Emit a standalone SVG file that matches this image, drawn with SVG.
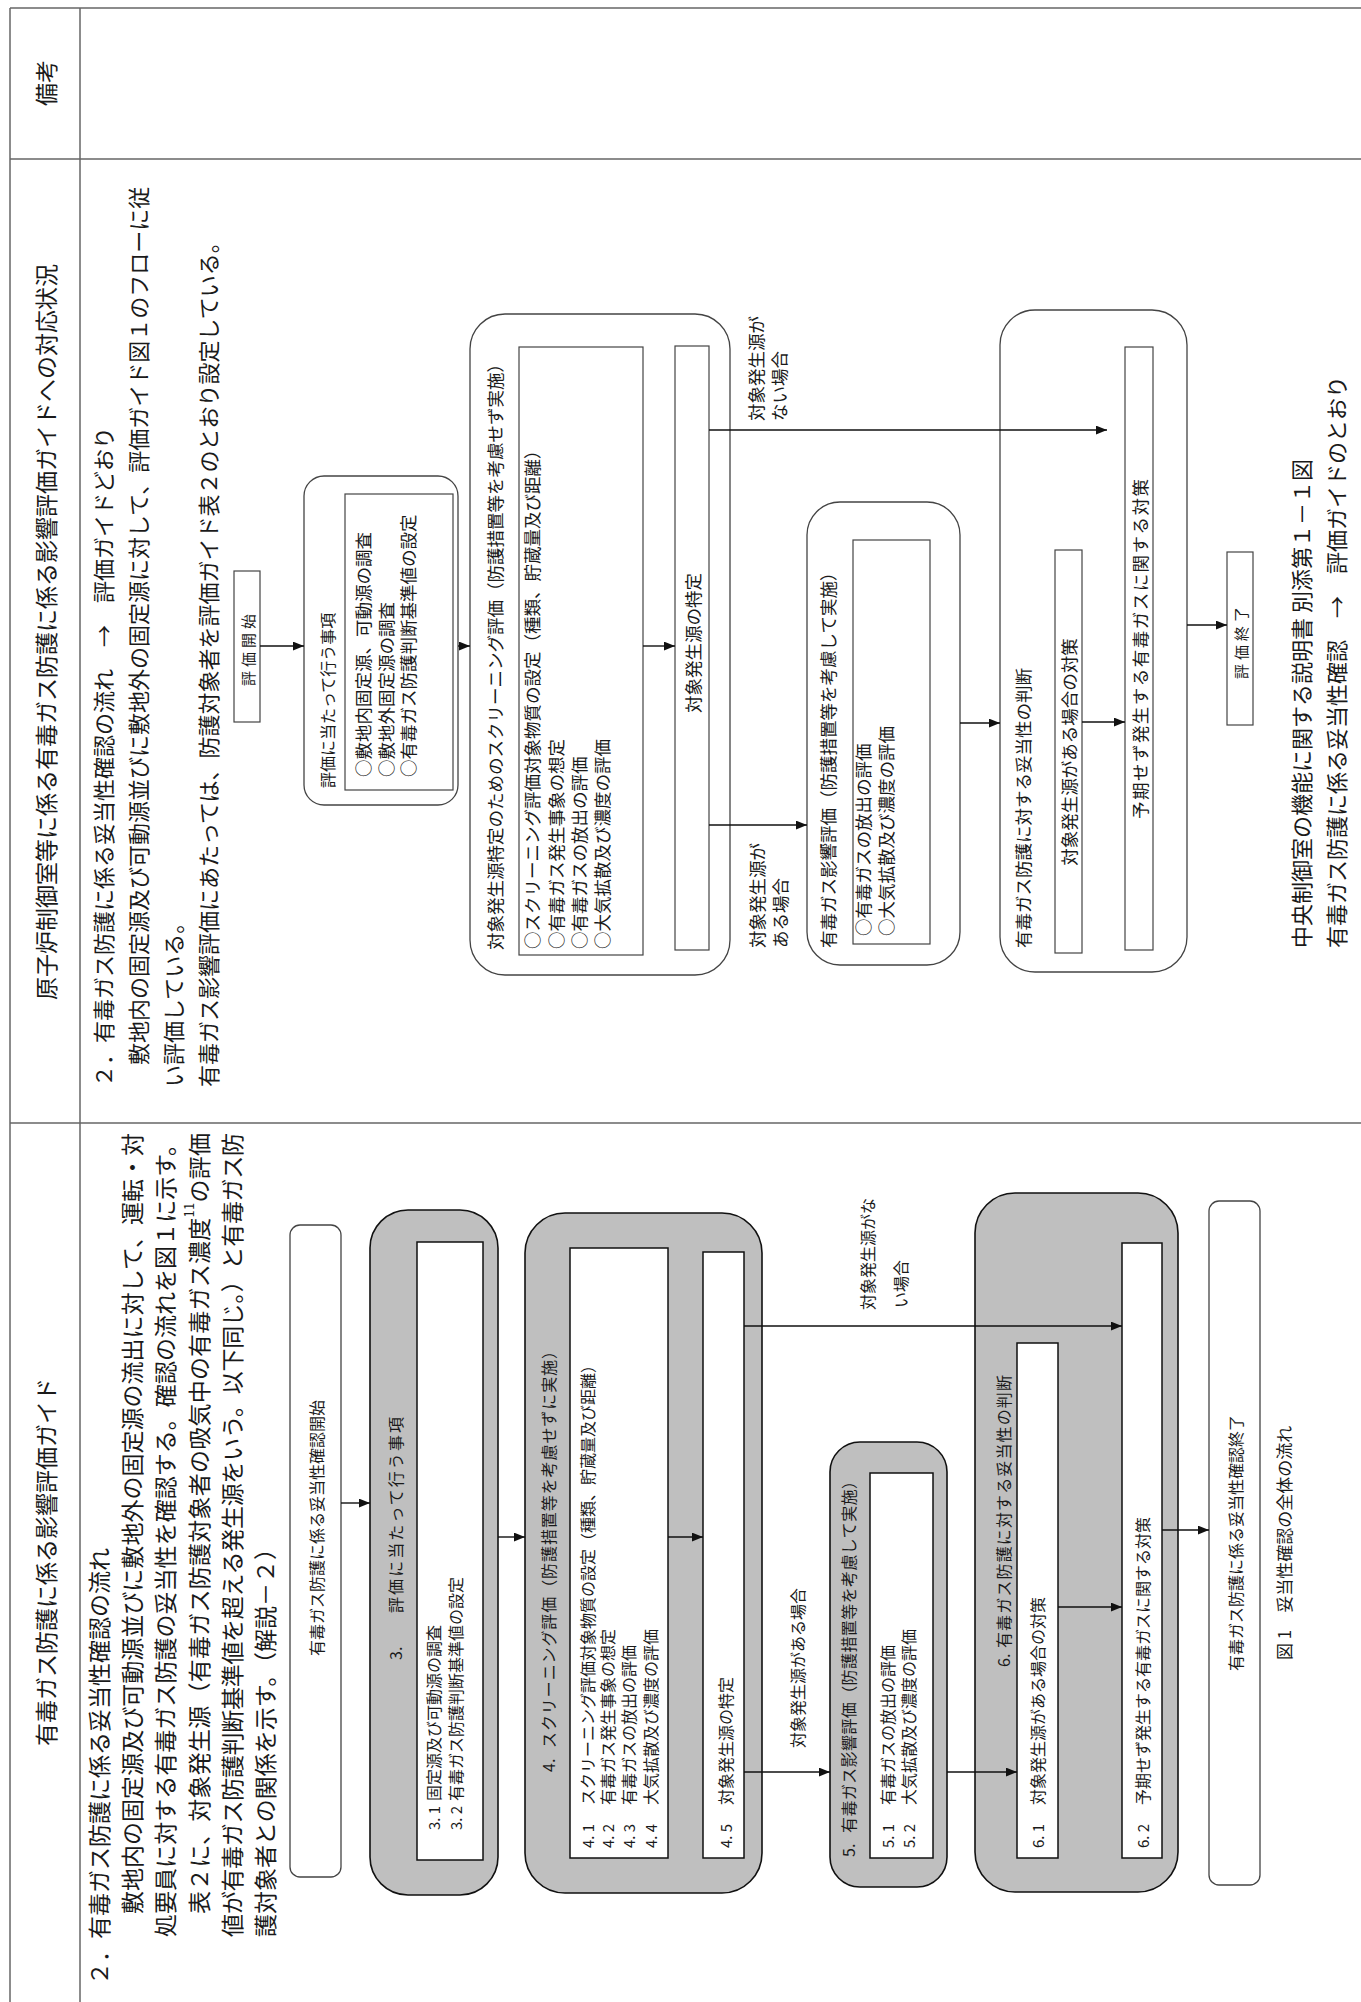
<svg xmlns="http://www.w3.org/2000/svg" width="1361" height="2002" viewBox="0 0 1361 2002">
<defs>
<style>
.t{font-family:"Noto Sans CJK JP","Noto Sans CJK SC",sans-serif;fill:#1a1a1a;dominant-baseline:central}
.hd{font-size:23px}
.bm{font-size:22px}
.bb{font-size:23px}
.fm{font-size:17.5px}
.fb{font-size:16px}
.num{font-size:15px}
.cap{font-size:22px}
.mid{text-anchor:middle}
.grid{stroke:#666;stroke-width:1.5;fill:none}
.wbox{fill:#fff;stroke:#444;stroke-width:1.3}
.ibox{fill:#fff;stroke:#444;stroke-width:1.2}
.gbox{fill:#bfbfbf;stroke:#111;stroke-width:1.6}
.gin{fill:#fff;stroke:#111;stroke-width:1.5}
.edge{stroke:#111;stroke-width:1.4;fill:none;marker-end:url(#ah)}
</style>
<marker id="ah" viewBox="0 0 10 8" refX="10" refY="4" markerWidth="11" markerHeight="9" markerUnits="userSpaceOnUse" orient="auto"><path d="M0,0L10,4L0,8z" fill="#111"/></marker>
</defs>
<rect x="0" y="0" width="1361" height="2002" fill="#fff"/>

<g id="table">
<line class="grid" x1="10" y1="8" x2="10" y2="2002"/>
<line class="grid" x1="80" y1="8" x2="80" y2="2002"/>
<line class="grid" x1="10" y1="8" x2="1361" y2="8"/>
<line class="grid" x1="10" y1="159" x2="1361" y2="159"/>
<line class="grid" x1="10" y1="1123" x2="1361" y2="1123"/>
<text class="t hd mid" transform="translate(45,83) rotate(-90)">備考</text>
<text class="t hd mid" transform="translate(45,632) rotate(-90)">原子炉制御室等に係る有毒ガス防護に係る影響評価ガイドへの対応状況</text>
<text class="t hd mid" transform="translate(45,1562) rotate(-90)">有毒ガス防護に係る影響評価ガイド</text>
</g>

<g id="mid-text">
<text class="t bm" transform="translate(102,1087) rotate(-90)">２．有毒ガス防護に係る妥当性確認の流れ　→　評価ガイドどおり</text>
<text class="t bm" transform="translate(137,1065) rotate(-90)">敷地内の固定源及び可動源並びに敷地外の固定源に対して、評価ガイド図１のフローに従</text>
<text class="t bm" transform="translate(172,1087) rotate(-90)">い評価している。</text>
<text class="t bm" transform="translate(207,1087) rotate(-90)">有毒ガス影響評価にあたっては、防護対象者を評価ガイド表２のとおり設定している。</text>
<text class="t cap" transform="translate(1300,948) rotate(-90)">中央制御室の機能に関する説明書 別添第１－１図</text>
<text class="t cap" transform="translate(1335,948) rotate(-90)">有毒ガス防護に係る妥当性確認　→　評価ガイドのとおり</text>
</g>

<g id="m-start">
<rect class="ibox" x="234" y="571" width="26" height="151"/>
<text class="t fm mid" style="font-size:15px;letter-spacing:4px" transform="translate(247,648) rotate(-90)">評価開始</text>
</g>
<g id="m-prep">
<rect class="wbox" x="304" y="476" width="154" height="329" rx="20"/>
<text class="t" style="font-size:16px" transform="translate(327,788) rotate(-90)">評価に当たって行う事項</text>
<rect class="ibox" x="345" y="494" width="108" height="296"/>
<text class="t fm" transform="translate(362,777) rotate(-90)">○敷地内固定源、可動源の調査</text>
<text class="t fm" transform="translate(385,777) rotate(-90)">○敷地外固定源の調査</text>
<text class="t fm" transform="translate(407,777) rotate(-90)">○有毒ガス防護判断基準値の設定</text>
</g>
<g id="m-screen">
<rect class="wbox" x="470" y="314" width="260" height="661" rx="35"/>
<text class="t fm" transform="translate(494,950) rotate(-90)">対象発生源特定のためのスクリーニング評価（防護措置等を考慮せず実施）</text>
<rect class="ibox" x="519" y="347" width="124" height="608"/>
<text class="t fm" transform="translate(531,949) rotate(-90)">○スクリーニング評価対象物質の設定（種類、貯蔵量及び距離）</text>
<text class="t fm" transform="translate(555,949) rotate(-90)">○有毒ガス発生事象の想定</text>
<text class="t fm" transform="translate(578,949) rotate(-90)">○有毒ガスの放出の評価</text>
<text class="t fm" transform="translate(601,949) rotate(-90)">○大気拡散及び濃度の評価</text>
</g>
<g id="m-identify">
<rect class="ibox" x="675" y="346" width="34" height="604"/>
<text class="t fm mid" transform="translate(692,643) rotate(-90)">対象発生源の特定</text>
</g>
<g id="m-impact">
<rect class="wbox" x="807" y="502" width="153" height="463" rx="33"/>
<text class="t fm" transform="translate(827,948) rotate(-90)">有毒ガス影響評価（防護措置等を考慮して実施）</text>
<rect class="ibox" x="853" y="540" width="77" height="404"/>
<text class="t fm" transform="translate(862,936) rotate(-90)">○有毒ガスの放出の評価</text>
<text class="t fm" transform="translate(885,936) rotate(-90)">○大気拡散及び濃度の評価</text>
</g>
<g id="m-judge">
<rect class="wbox" x="1000" y="310" width="187" height="662" rx="35"/>
<text class="t fm" transform="translate(1022,948) rotate(-90)">有毒ガス防護に対する妥当性の判断</text>
<rect class="ibox" x="1055" y="550" width="27" height="403"/>
<text class="t fm mid" transform="translate(1068.5,752) rotate(-90)">対象発生源がある場合の対策</text>
<rect class="ibox" x="1125" y="347" width="28" height="603"/>
<text class="t fm mid" textLength="340" transform="translate(1139,649) rotate(-90)">予期せず発生する有毒ガスに関する対策</text>
</g>
<g id="m-end">
<rect class="ibox" x="1227" y="552" width="26" height="173"/>
<text class="t fm mid" style="font-size:15px;letter-spacing:4px" transform="translate(1240,641) rotate(-90)">評価終了</text>
</g>
<g id="m-labels">
<text class="t fm" transform="translate(755,421) rotate(-90)">対象発生源が</text>
<text class="t fm" transform="translate(778,421) rotate(-90)">ない場合</text>
<text class="t fm" transform="translate(756,948) rotate(-90)">対象発生源が</text>
<text class="t fm" transform="translate(779,948) rotate(-90)">ある場合</text>
</g>

<g id="bot-text">
<text class="t bb" transform="translate(98,1985) rotate(-90)">２．有毒ガス防護に係る妥当性確認の流れ</text>
<text class="t bb" textLength="781" transform="translate(131,1914) rotate(-90)">敷地内の固定源及び可動源並びに敷地外の固定源の流出に対して、運転・対</text>
<text class="t bb" textLength="804" transform="translate(164,1937) rotate(-90)">処要員に対する有毒ガス防護の妥当性を確認する。確認の流れを図１に示す。</text>
<text class="t bb" textLength="781" transform="translate(198,1914) rotate(-90)">表２に、対象発生源（有毒ガス防護対象者の吸気中の有毒ガス濃度<tspan style="font-size:13px" baseline-shift="super">11</tspan><tspan>の評価</tspan></text>
<text class="t bb" textLength="804" transform="translate(231,1937) rotate(-90)">値が有毒ガス防護判断基準値を超える発生源をいう。以下同じ。）と有毒ガス防</text>
<text class="t bb" transform="translate(264,1937) rotate(-90)">護対象者との関係を示す。（解説－２）</text>
<text class="t" style="font-size:17px" transform="translate(1283,1660) rotate(-90)">図 1　妥当性確認の全体の流れ</text>
</g>

<g id="b-start">
<rect class="wbox" x="290" y="1225" width="51" height="652" rx="10"/>
<text class="t fb mid" transform="translate(316,1528) rotate(-90)">有毒ガス防護に係る妥当性確認開始</text>
</g>
<g id="b-3">
<rect class="gbox" x="370" y="1210" width="128" height="685" rx="38"/>
<text class="t fb" transform="translate(395,1660) rotate(-90)">3.</text>
<text class="t fb" textLength="196" transform="translate(395,1613) rotate(-90)">評価に当たって行う事項</text>
<rect class="gin" x="417" y="1242" width="66" height="618"/>
<text class="t num" transform="translate(433,1830) rotate(-90)">3. 1</text>
<text class="t fb" transform="translate(433,1801) rotate(-90)">固定源及び可動源の調査</text>
<text class="t num" transform="translate(455,1830) rotate(-90)">3. 2</text>
<text class="t fb" transform="translate(455,1801) rotate(-90)">有毒ガス防護判断基準値の設定</text>
</g>
<g id="b-4">
<rect class="gbox" x="525" y="1213" width="237" height="680" rx="40"/>
<text class="t fb" transform="translate(548,1772) rotate(-90)">4.</text>
<text class="t fb" textLength="405" transform="translate(548,1748) rotate(-90)">スクリーニング評価（防護措置等を考慮せずに実施）</text>
<rect class="gin" x="570" y="1248" width="98" height="610"/>
<text class="t num" transform="translate(587,1848) rotate(-90)">4. 1</text>
<text class="t fb" transform="translate(587,1805) rotate(-90)">スクリーニング評価対象物質の設定（種類、貯蔵量及び距離）</text>
<text class="t num" transform="translate(607,1848) rotate(-90)">4. 2</text>
<text class="t fb" transform="translate(607,1805) rotate(-90)">有毒ガス発生事象の想定</text>
<text class="t num" transform="translate(628,1848) rotate(-90)">4. 3</text>
<text class="t fb" transform="translate(628,1805) rotate(-90)">有毒ガスの放出の評価</text>
<text class="t num" transform="translate(650,1848) rotate(-90)">4. 4</text>
<text class="t fb" transform="translate(650,1805) rotate(-90)">大気拡散及び濃度の評価</text>
</g>
<g id="b-45">
<rect class="gin" x="703" y="1252" width="41" height="606"/>
<text class="t num" transform="translate(725,1848) rotate(-90)">4. 5</text>
<text class="t fb" transform="translate(725,1805) rotate(-90)">対象発生源の特定</text>
</g>
<g id="b-5">
<rect class="gbox" x="830" y="1442" width="117" height="445" rx="30"/>
<text class="t fb" transform="translate(848,1857) rotate(-90)">5.</text>
<text class="t fb" textLength="360" transform="translate(848,1833) rotate(-90)">有毒ガス影響評価（防護措置等を考慮して実施）</text>
<rect class="gin" x="870" y="1473" width="63" height="385"/>
<text class="t num" transform="translate(887,1848) rotate(-90)">5. 1</text>
<text class="t fb" transform="translate(887,1805) rotate(-90)">有毒ガスの放出の評価</text>
<text class="t num" transform="translate(908,1848) rotate(-90)">5. 2</text>
<text class="t fb" transform="translate(908,1805) rotate(-90)">大気拡散及び濃度の評価</text>
</g>
<g id="b-6">
<rect class="gbox" x="975" y="1193" width="203" height="699" rx="40"/>
<text class="t fb" transform="translate(1003,1667) rotate(-90)">6.</text>
<text class="t fb" textLength="273" transform="translate(1003,1648) rotate(-90)">有毒ガス防護に対する妥当性の判断</text>
</g>
<g id="b-61">
<rect class="gin" x="1017" y="1343" width="41" height="515"/>
<text class="t num" transform="translate(1037,1848) rotate(-90)">6. 1</text>
<text class="t fb" transform="translate(1037,1805) rotate(-90)">対象発生源がある場合の対策</text>
</g>
<g id="b-62">
<rect class="gin" x="1122" y="1243" width="40" height="615"/>
<text class="t num" transform="translate(1142,1848) rotate(-90)">6. 2</text>
<text class="t fb" transform="translate(1142,1805) rotate(-90)">予期せず発生する有毒ガスに関する対策</text>
</g>
<g id="b-end">
<rect class="wbox" x="1209" y="1201" width="51" height="684" rx="10"/>
<text class="t fb mid" transform="translate(1235,1543) rotate(-90)">有毒ガス防護に係る妥当性確認終了</text>
</g>
<g id="b-labels">
<text class="t fb" transform="translate(867,1310) rotate(-90)">対象発生源がな</text>
<text class="t fb" transform="translate(900,1308) rotate(-90)">い場合</text>
<text class="t fb" transform="translate(797,1748) rotate(-90)">対象発生源がある場合</text>
</g>

<g id="connectors">
<line class="edge" x1="260" y1="646" x2="304" y2="646"/>
<line class="edge" x1="458" y1="646" x2="470" y2="646"/>
<line class="edge" x1="643" y1="646" x2="675" y2="646"/>
<line class="edge" x1="709" y1="430" x2="1107" y2="430"/>
<line class="edge" x1="709" y1="825" x2="807" y2="825"/>
<line class="edge" x1="960" y1="723" x2="1000" y2="723"/>
<line class="edge" x1="1082" y1="722" x2="1125" y2="722"/>
<line class="edge" x1="1187" y1="625" x2="1227" y2="625"/>
<line class="edge" x1="341" y1="1503" x2="370" y2="1503"/>
<line class="edge" x1="498" y1="1537" x2="525" y2="1537"/>
<line class="edge" x1="668" y1="1537" x2="703" y2="1537"/>
<line class="edge" x1="744" y1="1326" x2="1122" y2="1326"/>
<line class="edge" x1="744" y1="1772" x2="830" y2="1772"/>
<line class="edge" x1="947" y1="1772" x2="1017" y2="1772"/>
<line class="edge" x1="1058" y1="1607" x2="1122" y2="1607"/>
<line class="edge" x1="1162" y1="1530" x2="1209" y2="1530"/>
</g>
</svg>
